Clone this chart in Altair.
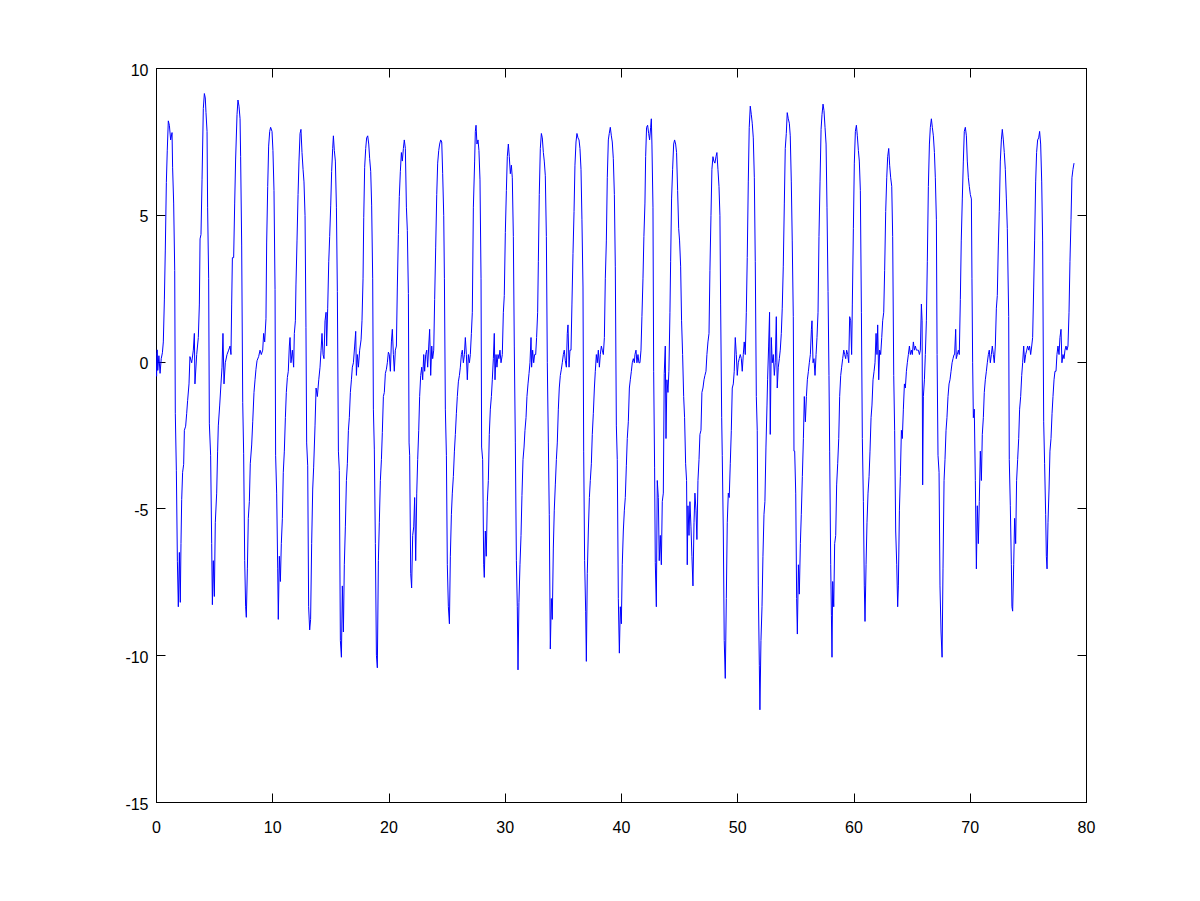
import altair as alt
import pandas as pd

# Time (x) and signal value (y), in six stretches
seg1 = [(0.0,0.3),(0.05,-0.5),(0.1,0.4),(0.15,-0.3),(0.25,0.2),(0.35,-0.4),(0.45,0.1),(0.55,0.3),(0.63,0.67),(0.72,2.1),(0.80,3.8),(0.89,6.1),(0.97,7.2),(1.06,8.2),(1.15,8.05),(1.26,7.55),(1.38,7.8),(1.43,6.6),(1.52,5.4),(1.61,3.1),(1.66,-1.76),(1.75,-3.7),(1.84,-6.8),(1.92,-8.35),(2.01,-6.5),(2.09,-8.2),(2.15,-6.2),(2.21,-4.7),(2.29,-3.77),(2.38,-3.5),(2.44,-2.34),(2.55,-2.2),(2.64,-1.76),(2.72,-1.33),(2.84,-0.76),(2.92,0.17),(3.07,-0.04),(3.21,0.39),(3.30,0.96),(3.35,-0.76),(3.50,0.24),(3.64,0.82),(3.73,1.96),(3.79,4.18),(3.87,4.33),(3.96,6.19),(4.07,8.62),(4.16,9.13),(4.24,8.98),(4.30,8.48),(4.39,7.84),(4.44,5.26),(4.53,2.82),(4.59,-2.12),(4.70,-3.19),(4.79,-6.2),(4.85,-8.28),(4.93,-6.78),(5.02,-8.0),(5.10,-5.49),(5.22,-4.48),(5.30,-3.05),(5.36,-2.19),(5.48,-1.48),(5.59,-0.76),(5.68,-0.19),(5.76,0.96),(5.85,-0.76),(5.96,-0.04),(6.11,0.24),(6.25,0.39),(6.37,0.53),(6.45,0.24),(6.51,1.96),(6.57,3.54),(6.68,3.54),(6.77,5.4),(6.85,6.9),(6.97,8.41),(7.05,8.91),(7.14,8.7),(7.23,8.27),(7.28,6.98),(7.37,3.97),(7.46,-1.4),(7.54,-3.12),(7.63,-6.78),(7.71,-8.35),(7.77,-8.71),(7.86,-7.06),(7.94,-5.34),(8.03,-4.77),(8.11,-3.48),(8.23,-2.84),(8.32,-2.05),(8.43,-1.05),(8.52,-0.62),(8.60,-0.26),(8.69,0.03),(8.83,0.17),(8.95,0.39),(9.06,0.24),(9.18,0.39),(9.26,0.96),(9.35,0.67),(9.46,1.46),(9.52,4.04),(9.61,5.97),(9.69,7.34),(9.78,7.84),(9.86,7.98),(9.98,7.84),(10.06,7.19),(10.15,5.83),(10.24,2.46),(10.29,-3.19),(10.38,-4.48),(10.47,-7.06),(10.52,-8.78),(10.61,-6.63),(10.70,-7.49),(10.78,-6.2),(10.87,-5.34),(10.95,-3.77),(11.04,-3.05),(11.13,-1.91),(11.21,-1.05),(11.30,-0.54),(11.38,-0.33),(11.47,0.53),(11.53,0.82),(11.61,-0.04),(11.73,0.39),(11.84,-0.19),(11.90,0.96),(11.99,1.39),(12.04,2.61),(12.13,4.11),(12.22,5.69),(12.30,6.83),(12.39,7.77),(12.47,7.91),(12.56,7.12),(12.65,6.55),(12.73,6.12),(12.82,4.97),(12.90,1.17),(12.96,-2.77),(13.05,-3.55),(13.13,-8.35),(13.22,-9.14),(13.30,-8.78),(13.39,-6.2),(13.48,-4.34),(13.56,-3.62)]

seg2 = [(13.68,-2.19),(13.77,-0.9),(13.88,-1.19),(14.0,-0.62),(14.11,-0.19),(14.20,0.39),(14.28,0.96),(14.37,0.24),(14.45,0.1),(14.54,1.39),(14.63,1.68),(14.68,0.53),(14.77,1.82),(14.86,3.4),(14.94,4.26),(15.03,5.33),(15.11,6.48),(15.20,7.26),(15.26,7.69),(15.34,7.19),(15.43,6.83),(15.52,5.26),(15.60,2.39),(15.69,-3.05),(15.77,-3.7),(15.86,-9.5),(15.95,-10.07),(16.03,-7.64),(16.12,-9.21),(16.20,-6.92),(16.29,-5.63),(16.38,-4.05),(16.46,-3.48),(16.55,-2.34),(16.63,-1.91),(16.72,-1.05),(16.81,-0.62),(16.89,-0.19),(16.98,-0.04),(17.09,0.53),(17.18,1.03),(17.24,-0.47),(17.32,0.24),(17.41,-0.19),(17.52,0.39),(17.64,0.74),(17.72,1.39),(17.81,2.82),(17.87,4.9),(17.95,6.62),(18.04,7.26),(18.12,7.62),(18.21,7.69),(18.30,7.41),(18.38,6.91),(18.47,6.48),(18.55,5.33),(18.64,2.82),(18.70,-1.62),(18.78,-2.98),(18.87,-6.2),(18.96,-10.0),(19.04,-10.43),(19.13,-6.78),(19.21,-5.49),(19.30,-4.05),(19.39,-3.34),(19.47,-2.41),(19.56,-1.19),(19.64,-1.05),(19.73,-0.4),(19.82,-0.26),(19.90,-0.04),(19.99,0.32),(20.07,0.24),(20.16,-0.33),(20.25,0.67),(20.33,1.1),(20.42,0.24),(20.50,-0.33),(20.59,0.39),(20.68,0.53),(20.76,2.54),(20.85,4.33),(20.93,5.62),(21.02,6.48),(21.11,7.12),(21.19,6.83),(21.28,7.26),(21.36,7.55),(21.45,7.26),(21.54,5.26),(21.62,4.47),(21.71,2.32),(21.77,-2.77),(21.82,-3.19),(21.91,-7.21),(21.99,-7.71),(22.08,-5.92),(22.17,-5.63),(22.25,-4.63),(22.34,-6.78),(22.43,-4.48),(22.51,-3.34),(22.60,-2.34),(22.68,-1.19),(22.77,-0.47),(22.86,-0.19),(22.94,-0.62),(23.03,0.24),(23.11,-0.33),(23.20,0.24),(23.29,0.39),(23.37,-0.19),(23.46,0.53),(23.54,1.1),(23.63,-0.47),(23.72,0.53),(23.80,0.1),(23.89,0.39),(23.97,2.11),(24.06,3.9),(24.15,5.69),(24.23,6.76),(24.32,7.19),(24.40,7.41),(24.49,7.55),(24.58,7.48),(24.66,6.4),(24.75,4.97),(24.81,2.82),(24.89,-1.62),(24.98,-3.19),(25.06,-6.92),(25.15,-8.35),(25.24,-8.93),(25.32,-6.63),(25.41,-5.2),(25.49,-4.48),(25.58,-3.91),(25.67,-3.05),(25.75,-2.48),(25.84,-1.76),(25.92,-1.19),(26.01,-0.69),(26.10,-0.47),(26.18,-0.19),(26.27,0.24),(26.35,0.39),(26.44,-0.04),(26.53,0.24),(26.61,0.82),(26.70,0.24),(26.78,-0.62),(26.87,0.24),(26.96,-0.04),(27.04,0.24),(27.13,0.96),(27.21,1.68),(27.30,5.26)]

seg3 = [(27.41,6.83),(27.47,7.84),(27.53,8.05),(27.61,7.41),(27.70,7.55),(27.78,7.19),(27.87,6.19),(27.96,2.82),(28.01,-2.91),(28.10,-3.34),(28.19,-6.92),(28.24,-7.35),(28.33,-5.77),(28.41,-6.63),(28.50,-4.77),(28.59,-4.05),(28.67,-2.48),(28.76,-1.62),(28.85,-1.19),(28.93,-0.62),(29.02,0.1),(29.10,0.96),(29.16,-0.62),(29.25,0.24),(29.33,-0.19),(29.42,0.24),(29.50,0.1),(29.59,0.39),(29.68,-0.04),(29.79,0.24),(29.88,1.68),(29.96,2.25),(30.05,4.4),(30.14,5.83),(30.22,6.98),(30.31,7.41),(30.39,6.98),(30.48,6.4),(30.57,6.69),(30.65,6.26),(30.74,4.26),(30.82,0.53),(30.91,-2.77),(31.00,-6.78),(31.08,-8.35),(31.14,-10.5),(31.22,-8.21),(31.31,-6.92),(31.40,-5.92),(31.48,-4.56),(31.57,-3.34),(31.66,-2.91),(31.74,-2.34),(31.83,-1.91),(31.91,-1.19),(32.00,-0.76),(32.09,-0.4),(32.17,-0.04),(32.26,0.82),(32.31,-0.19),(32.40,0.39),(32.49,-0.04),(32.57,0.24),(32.66,0.24),(32.74,0.82),(32.83,1.68),(32.89,3.4),(32.97,5.69),(33.06,7.26),(33.15,7.77),(33.23,7.62),(33.32,7.12),(33.40,6.83),(33.49,6.33),(33.58,4.26),(33.66,-0.04),(33.75,-2.77),(33.83,-5.2),(33.92,-9.79),(34.01,-8.07),(34.09,-8.78),(34.18,-6.35),(34.26,-5.06),(34.35,-4.2),(34.44,-3.34),(34.52,-2.77),(34.61,-1.62),(34.69,-0.9),(34.78,-0.47),(34.87,-0.26),(34.95,-0.04),(35.04,0.24),(35.12,0.39),(35.21,0.03),(35.30,-0.19),(35.38,0.96),(35.44,1.25),(35.53,-0.19),(35.61,0.39),(35.70,0.39),(35.78,1.96),(35.87,3.68),(35.96,5.11),(36.04,6.69),(36.13,7.48),(36.21,7.77),(36.30,7.62),(36.39,7.55),(36.47,7.26),(36.56,6.55),(36.64,4.83),(36.73,2.54),(36.79,-3.05),(36.87,-6.78),(36.96,-8.5),(37.02,-10.21),(37.10,-7.21),(37.19,-5.77),(37.28,-4.63),(37.36,-4.05),(37.45,-3.48),(37.53,-2.48),(37.62,-1.76),(37.71,-0.9),(37.79,-0.33),(37.88,0.24),(37.96,-0.04),(38.05,0.39),(38.14,-0.19),(38.22,0.24),(38.31,0.53),(38.39,0.39),(38.48,0.24),(38.57,0.82),(38.65,2.82),(38.74,4.11),(38.82,6.26),(38.91,7.55),(38.99,7.77),(39.08,7.98),(39.17,7.69),(39.25,7.48),(39.34,6.91),(39.43,5.69),(39.51,3.25),(39.60,-2.19),(39.68,-3.34),(39.77,-8.07),(39.86,-9.93),(39.94,-8.35),(40.03,-8.93),(40.11,-6.92),(40.20,-5.77),(40.29,-5.06),(40.37,-4.63),(40.46,-3.55),(40.54,-2.62),(40.63,-2.05),(40.72,-0.9),(40.80,-0.62),(40.89,-0.33),(40.97,-0.04),(41.06,0.1),(41.15,-0.04)]

seg4 = [(41.20,0.24),(41.29,0.39),(41.37,-0.04),(41.46,0.24),(41.54,-0.04),(41.63,-0.04),(41.72,0.39),(41.80,1.53),(41.89,2.82),(41.97,4.26),(42.06,5.4),(42.12,6.98),(42.20,7.98),(42.29,8.05),(42.38,7.77),(42.46,7.55),(42.55,7.98),(42.61,8.27),(42.66,7.41),(42.75,5.26),(42.81,-0.33),(42.89,-3.62),(42.95,-6.85),(43.04,-8.35),(43.12,-4.05),(43.21,-4.63),(43.29,-6.78),(43.38,-5.92),(43.47,-6.92),(43.55,-4.77),(43.64,-4.48),(43.72,-0.4),(43.81,0.53),(43.87,-2.62),(43.95,-0.62),(44.04,-1.05),(44.12,-0.33),(44.21,1.68),(44.27,3.4),(44.35,5.54),(44.44,6.55),(44.53,7.41),(44.61,7.55),(44.70,7.41),(44.78,7.12),(44.87,5.83),(44.96,4.54),(45.04,4.11),(45.13,3.25),(45.21,1.39),(45.30,0.24),(45.39,-1.19),(45.47,-1.91),(45.56,-3.48),(45.64,-4.05),(45.70,-6.92),(45.76,-4.91),(45.85,-5.92),(45.93,-4.77),(46.02,-5.63),(46.10,-6.63),(46.19,-7.64),(46.28,-5.49),(46.36,-4.48),(46.45,-5.06),(46.53,-6.06),(46.62,-4.05),(46.71,-3.34),(46.79,-2.48),(46.88,-2.34),(46.96,-1.05),(47.05,-0.9),(47.14,-0.62),(47.22,-0.47),(47.31,-0.33),(47.39,0.24),(47.48,0.67),(47.57,0.96),(47.65,3.11),(47.74,4.97),(47.82,6.55),(47.91,6.98),(47.99,6.83),(48.08,6.76),(48.17,6.98),(48.25,7.12),(48.34,6.55),(48.43,5.97),(48.51,4.97),(48.57,1.96),(48.66,-1.91),(48.71,-3.19),(48.80,-5.77),(48.88,-9.5),(48.97,-10.79),(49.06,-8.07),(49.14,-5.49),(49.23,-4.48),(49.31,-4.63),(49.40,-3.48),(49.49,-2.34),(49.57,-0.9),(49.66,-0.76),(49.74,-0.33),(49.83,0.82),(49.92,0.24),(50.00,-0.47),(50.09,-0.04),(50.17,0.1),(50.26,0.24),(50.35,0.1),(50.43,-0.33),(50.52,0.24),(50.60,0.67),(50.69,0.24),(50.78,1.68),(50.86,3.54),(50.95,6.12),(51.03,7.98),(51.12,8.7),(51.21,8.41),(51.29,8.12),(51.38,7.62),(51.47,6.26),(51.55,3.4),(51.64,-1.19),(51.72,-2.34),(51.81,-7.64),(51.90,-10.36),(51.95,-11.86),(52.04,-9.5),(52.13,-8.35),(52.21,-6.63),(52.30,-5.2),(52.38,-4.77),(52.47,-2.91),(52.56,-1.48),(52.61,-0.62),(52.70,0.53),(52.78,1.68),(52.84,-2.48),(52.93,0.82),(53.01,-0.04),(53.10,0.24),(53.19,-0.47),(53.27,-0.04),(53.36,1.53),(53.44,-0.9),(53.53,-0.19),(53.62,0.1),(53.70,0.39),(53.79,0.96),(53.87,1.82),(53.96,3.25),(54.05,5.4),(54.13,7.26),(54.22,7.77),(54.30,8.48),(54.39,8.27),(54.48,8.12),(54.56,7.69),(54.65,6.12),(54.73,4.11),(54.82,1.53),(54.88,-3.05)]

seg5 = [(54.94,-3.05),(55.03,-4.48),(55.11,-8.07),(55.17,-9.28),(55.26,-6.92),(55.34,-7.92),(55.43,-6.2),(55.51,-5.2),(55.60,-3.91),(55.69,-2.62),(55.77,-1.19),(55.86,-2.05),(55.95,-1.19),(56.03,-0.62),(56.12,-0.33),(56.20,-0.04),(56.29,0.24),(56.38,1.1),(56.43,1.39),(56.52,-0.04),(56.60,0.1),(56.69,-0.47),(56.78,0.24),(56.86,0.82),(56.95,1.68),(57.03,4.26),(57.12,6.12),(57.21,7.91),(57.29,8.41),(57.38,8.77),(57.46,8.55),(57.55,7.98),(57.64,7.41),(57.72,5.26),(57.81,2.39),(57.89,-0.47),(57.95,-3.05),(58.04,-6.92),(58.10,-8.64),(58.15,-10.07),(58.21,-7.49),(58.30,-8.35),(58.38,-6.2),(58.47,-5.92),(58.55,-4.2),(58.64,-3.48),(58.73,-2.62),(58.81,-1.19),(58.90,-0.47),(58.98,-0.19),(59.07,0.1),(59.16,0.39),(59.24,0.24),(59.33,0.1),(59.41,0.39),(59.50,0.24),(59.59,-0.04),(59.67,1.53),(59.76,1.39),(59.84,0.24),(59.90,1.96),(59.99,4.54),(60.07,6.76),(60.16,7.84),(60.25,8.05),(60.33,7.69),(60.42,7.19),(60.50,6.83),(60.59,5.83),(60.68,1.68),(60.76,-2.62),(60.85,-4.77),(60.93,-7.64),(60.99,-8.85),(61.08,-6.92),(61.16,-5.49),(61.25,-4.48),(61.34,-3.91),(61.42,-3.05),(61.51,-1.91),(61.59,-1.48),(61.68,-0.62),(61.77,-0.33),(61.85,-0.04),(61.94,0.96),(62.02,0.24),(62.08,1.25),(62.17,-0.62),(62.25,0.39),(62.34,0.24),(62.43,0.82),(62.51,1.39),(62.60,1.68),(62.68,3.11),(62.77,5.11),(62.86,6.26),(62.94,6.98),(63.03,7.26),(63.11,6.69),(63.20,6.26),(63.29,5.97),(63.37,4.26),(63.46,-0.47),(63.54,-2.34),(63.63,-5.77),(63.72,-6.92),(63.80,-8.35),(63.86,-7.64),(63.95,-5.06),(64.03,-3.91),(64.12,-2.34),(64.20,-2.62),(64.29,-1.62),(64.38,-0.76),(64.46,-0.9),(64.55,-0.33),(64.63,-0.04),(64.72,0.24),(64.81,0.53),(64.89,0.24),(64.98,0.39),(65.06,0.24),(65.15,0.67),(65.24,0.39),(65.32,0.53),(65.41,0.39),(65.49,0.39),(65.58,0.39),(65.67,0.24),(65.75,0.39),(65.84,1.96),(65.90,1.39),(65.95,-4.2),(66.01,-1.19),(66.10,-0.62),(66.18,0.24),(66.27,1.39),(66.35,3.4),(66.44,5.97),(66.53,7.41),(66.61,7.98),(66.70,8.27),(66.78,7.98),(66.87,7.69),(66.96,7.12),(67.04,6.26),(67.13,4.83),(67.19,0.24),(67.27,-3.19),(67.36,-3.77),(67.44,-7.64),(67.53,-9.21),(67.62,-10.07),(67.70,-7.06),(67.79,-4.05),(67.87,-3.34),(67.96,-2.34),(68.04,-1.91),(68.13,-1.19),(68.22,-0.76),(68.30,-0.62),(68.39,-0.33),(68.48,-0.04),(68.56,0.1),(68.65,0.24)]

seg6 = [(68.70,0.24),(68.79,1.1),(68.84,0.1),(68.93,0.24),(69.02,0.39),(69.10,0.24),(69.19,2.11),(69.27,4.11),(69.36,5.54),(69.45,6.83),(69.53,7.84),(69.62,7.98),(69.71,7.69),(69.79,6.83),(69.88,6.26),(69.96,5.97),(70.05,5.69),(70.14,5.54),(70.19,2.82),(70.25,-0.04),(70.31,-1.91),(70.39,-1.62),(70.48,-4.05),(70.57,-7.06),(70.65,-4.91),(70.74,-6.2),(70.82,-4.77),(70.91,-3.05),(71.00,-4.05),(71.08,-2.48),(71.17,-1.91),(71.25,-1.05),(71.34,-0.62),(71.43,-0.33),(71.51,-0.04),(71.60,0.24),(71.68,0.39),(71.77,-0.04),(71.86,0.24),(71.94,0.53),(72.03,0.24),(72.11,-0.04),(72.20,0.53),(72.29,1.82),(72.37,2.25),(72.46,3.97),(72.54,5.11),(72.63,6.83),(72.72,7.55),(72.80,7.91),(72.89,7.55),(72.97,7.12),(73.06,6.55),(73.15,5.54),(73.23,4.54),(73.35,1.53),(73.40,-3.34),(73.49,-4.91),(73.58,-6.92),(73.63,-8.35),(73.69,-8.5),(73.78,-6.92),(73.86,-5.34),(73.95,-6.2),(74.03,-4.05),(74.12,-3.34),(74.21,-2.62),(74.29,-1.62),(74.38,-1.19),(74.47,-0.47),(74.55,-0.04),(74.64,0.53),(74.72,-0.04),(74.81,0.24),(74.90,0.39),(74.98,0.53),(75.07,0.39),(75.15,0.53),(75.24,0.24),(75.33,0.53),(75.41,0.82),(75.50,2.54),(75.58,4.11),(75.67,6.12),(75.75,7.12),(75.84,7.55),(75.93,7.62),(76.01,7.84),(76.10,7.41),(76.19,6.12),(76.27,4.11),(76.36,-2.05),(76.44,-3.48),(76.53,-5.2),(76.59,-6.63),(76.65,-7.06),(76.73,-5.49),(76.82,-4.34),(76.90,-3.05),(76.99,-2.62),(77.08,-1.76),(77.16,-1.19),(77.25,-0.62),(77.33,-0.33),(77.42,-0.33),(77.50,0.24),(77.59,0.53),(77.68,0.24),(77.76,0.82),(77.85,1.1),(77.93,-0.04),(78.02,0.24),(78.11,0.1),(78.19,0.39),(78.28,0.53),(78.36,0.39),(78.45,0.53),(78.54,1.68),(78.62,3.4),(78.71,4.83),(78.79,6.26),(78.88,6.55),(78.97,6.76)]

x_ticks = [0, 10, 20, 30, 40, 50, 60, 70, 80]
y_ticks = [-15, -10, -5, 0, 5, 10]

df = pd.DataFrame(seg1 + seg2 + seg3 + seg4 + seg5 + seg6, columns=["t", "v"])

FONT = "Liberation Sans"
TICK = {"expr": "-9"}
PLAIN = "'' + datum.value"   # ASCII hyphen for negatives, as in the reference

xscale = alt.Scale(domain=[0, 80], nice=False, zero=False)
yscale = alt.Scale(domain=[-15, 10], nice=False, zero=False)

common = dict(grid=False, title=None, domainColor="black", domainWidth=1,
              tickColor="black", tickWidth=1, tickSize=TICK,
              labelFont=FONT, labelFontSize=16, labelColor="black",
              labelFlush=False, labelOverlap=False, labelExpr=PLAIN)

base = alt.Chart(df)

main = base.mark_line(color="#0000FF", strokeWidth=1, clip=True).encode(
    x=alt.X("t:Q", scale=xscale,
            axis=alt.Axis(orient="bottom", values=x_ticks, labelPadding=26,
                          labelBaseline="top", **common)),
    y=alt.Y("v:Q", scale=yscale,
            axis=alt.Axis(orient="left", values=y_ticks, labelPadding=17,
                          labelOffset=2, **common)),
)

mirror = base.mark_line(strokeOpacity=0).encode(
    x=alt.X("t:Q", scale=xscale,
            axis=alt.Axis(orient="top", values=x_ticks, labels=False, **common)),
    y=alt.Y("v:Q", scale=yscale,
            axis=alt.Axis(orient="right", values=y_ticks, labels=False, **common)),
)

chart = (
    alt.layer(main, mirror)
    .resolve_axis(x="independent", y="independent")
    .properties(width=930, height=734, autosize="none",
                padding={"left": 148, "top": 60, "right": 100, "bottom": 90},
                background="white")
    .configure_view(stroke="black", strokeWidth=1)
)

chart.save("out.html", embed_options={"renderer": "svg", "actions": False})
